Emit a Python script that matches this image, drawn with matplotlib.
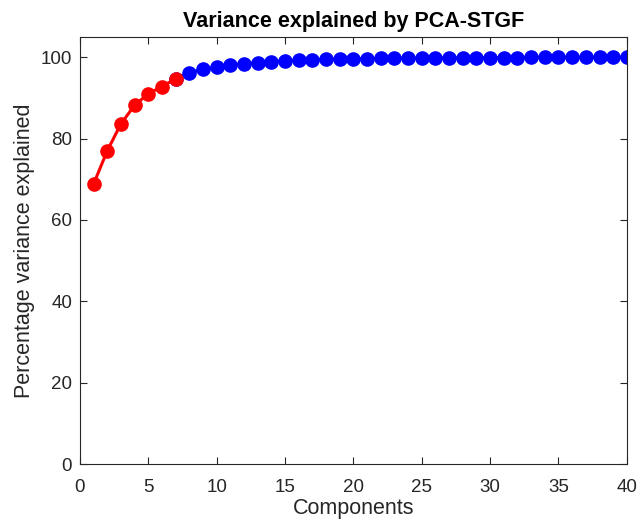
import matplotlib
matplotlib.use("Agg")
import matplotlib.pyplot as plt

plt.rcParams["font.family"] = ["Liberation Sans", "DejaVu Sans"]

components = list(range(1, 41))
variance = [68.8, 77.0, 83.6, 88.2, 91.0, 92.8, 94.7, 96.2, 97.0, 97.5,
            98.1, 98.4, 98.7, 98.9, 99.1, 99.25, 99.35, 99.45, 99.55, 99.6,
            99.65, 99.7, 99.75, 99.78, 99.8, 99.83, 99.85, 99.87, 99.89, 99.9,
            99.92, 99.93, 99.94, 99.95, 99.96, 99.97, 99.98, 99.99, 99.99, 100.0]
n_selected = 7

fig = plt.figure(figsize=(6.39, 5.27), dpi=100)
ax = fig.add_axes([0.125, 0.1195, 0.856, 0.8105])

ax.plot(components[n_selected - 1:], variance[n_selected - 1:], "-o", color="blue",
        lw=2.2, ms=9.5)
ax.plot(components[:n_selected], variance[:n_selected], "-o", color="red",
        lw=2.2, ms=9.5)

ax.set_xlim(0, 40)
ax.set_ylim(0, 105)
ax.set_xticks(range(0, 41, 5))
ax.set_yticks(range(0, 101, 20))
dark = (0.15, 0.15, 0.15)
ax.tick_params(direction="in", top=True, right=True, labelsize=13.5, colors=dark,
               length=5, width=0.8)
ax.tick_params(axis="x", pad=10.5)
ax.tick_params(axis="y", pad=5.5)
for s in ax.spines.values():
    s.set_color(dark)
    s.set_linewidth(0.8)

ax.set_xlabel("Components", fontsize=15.5, color=dark, labelpad=2)
ax.set_ylabel("Percentage variance explained", fontsize=15.5, color=dark, labelpad=4)
ax.set_title("Variance explained by PCA-STGF", fontsize=15.5, fontweight="bold", pad=7)

fig.savefig("out.png", dpi=100)
